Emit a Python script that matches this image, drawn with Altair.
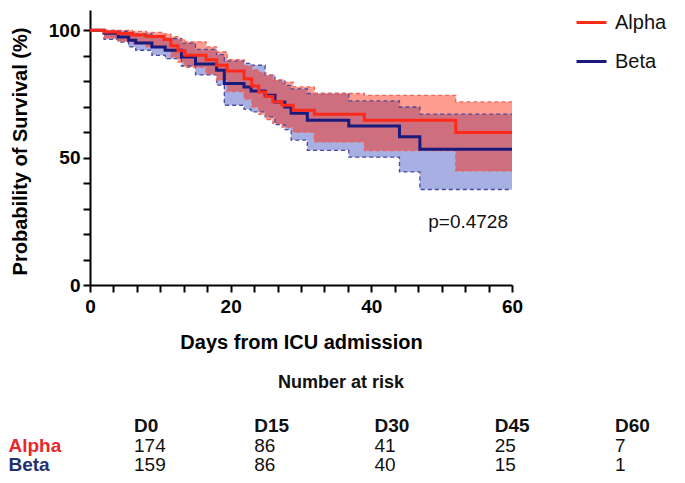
import altair as alt
import pandas as pd

FONT = "Liberation Sans"
RED = "#FF2A1A"
NAVY = "#1A1A7C"

# ---- Kaplan-Meier estimates (days, survival %, 95% CI) ----
a_t = [0, 2, 4, 6, 8, 10.5, 11.5, 12.5, 13.5, 16.5, 18, 19.5, 21.9, 23, 24, 25, 26, 27.3, 28.9, 31.9, 39, 52, 60]
a_s = [100, 99.4, 98.8, 98.2, 97.6, 96.4, 94.0, 92.0, 90.2, 88.5, 86.3, 84.0, 81.0, 78.2, 75.8, 74.0, 72.0, 70.6, 68.6, 67.1, 64.7, 59.9, 59.9]
a_lo = [100, 97.0, 95.8, 94.8, 93.5, 92.0, 89.5, 87.5, 85.5, 83.0, 80.5, 76.0, 73.0, 70.0, 67.0, 65.0, 63.5, 62.0, 60.0, 56.2, 52.8, 44.8, 44.8]
a_hi = [100, 100, 100, 99.6, 99.2, 98.6, 97.5, 96.5, 95.5, 93.5, 91.5, 88.5, 86.0, 84.5, 83.5, 82.4, 80.5, 79.7, 77.8, 75.2, 74.5, 71.9, 71.9]

b_t = [0, 2, 4, 5.5, 6.5, 8.8, 10.7, 13, 15, 18, 19.1, 21.9, 22.9, 24.9, 26.3, 27.7, 28.6, 30.9, 36.8, 44, 46.9, 60]
b_s = [100, 98.9, 97.4, 96.1, 95.0, 93.5, 92.2, 89.5, 86.8, 84.3, 79.1, 77.8, 76.2, 74.5, 71.9, 69.9, 67.5, 64.7, 62.4, 58.2, 53.3, 53.3]
b_lo = [100, 96.5, 95.4, 93.5, 92.2, 90.2, 88.9, 86.0, 82.5, 78.5, 70.6, 69.0, 68.0, 66.0, 63.0, 61.0, 56.9, 52.9, 50.2, 44.4, 37.5, 37.5]
b_hi = [100, 100, 99.6, 99.2, 98.6, 97.8, 96.8, 95.0, 92.5, 90.5, 88.0, 87.0, 86.3, 82.4, 80.4, 78.4, 77.0, 75.2, 72.3, 69.9, 67.1, 67.1]

# ---- Number at risk ----
risk_days = ["D0", "D15", "D30", "D45", "D60"]
alpha_risk = [174, 86, 41, 25, 7]
beta_risk = [159, 86, 40, 15, 1]

p_label = "p=0.4728"

df = pd.concat([
    pd.DataFrame({"group": "Alpha", "t": a_t, "s": a_s, "lo": a_lo, "hi": a_hi}),
    pd.DataFrame({"group": "Beta", "t": b_t, "s": b_s, "lo": b_lo, "hi": b_hi}),
])

risk_df = pd.DataFrame({
    "i": list(range(len(risk_days))),
    "day": risk_days,
    "alpha": [str(v) for v in alpha_risk],
    "beta": [str(v) for v in beta_risk],
})

xticks = [i * 10 / 3 for i in range(19)]
yticks = list(range(0, 101, 10))

xscale = alt.Scale(domain=[0, 60], nice=False, zero=False)
yscale = alt.Scale(domain=[0, 108], nice=False)

xaxis = alt.Axis(
    values=xticks,
    labelExpr="abs(datum.value/20 - round(datum.value/20)) < 0.001 ? format(round(datum.value), 'd') : ''",
    labelPadding=5, labelFlush=False, titleY=57, titleBaseline="middle",
)
yaxis = alt.Axis(
    values=yticks,
    labelExpr="datum.value % 50 == 0 ? datum.label : ''",
    labelPadding=3, labelFlush=False, titleX=-70, titleY=141, titleBaseline="middle", titleAlign="center",
)

X = alt.X("t:Q", scale=xscale, axis=xaxis, title="Days from ICU admission")


def Y(field):
    return alt.Y(field, scale=yscale, axis=yaxis, title="Probability of Survival (%)")


base = alt.Chart(df)
alpha_b = base.transform_filter(alt.datum.group == "Alpha")
beta_b = base.transform_filter(alt.datum.group == "Beta")

area_b = beta_b.mark_area(interpolate="step-after", color="#5060C8", opacity=0.5).encode(
    x=X, y=Y("lo:Q"), y2="hi:Q")
area_r = alpha_b.mark_area(interpolate="step-after", color="#FF1E00", opacity=0.44).encode(
    x=X, y=Y("lo:Q"), y2="hi:Q")

edge_kw_b = dict(interpolate="step-after", strokeDash=[4, 3], strokeWidth=1.3, color="#4A4A9E")
edge_kw_r = dict(interpolate="step-after", strokeDash=[4, 3], strokeWidth=1.3, color="#F0645A")
eb_lo = beta_b.mark_line(**edge_kw_b).encode(x=X, y=Y("lo:Q"))
eb_hi = beta_b.mark_line(**edge_kw_b).encode(x=X, y=Y("hi:Q"))
er_lo = alpha_b.mark_line(**edge_kw_r).encode(x=X, y=Y("lo:Q"))
er_hi = alpha_b.mark_line(**edge_kw_r).encode(x=X, y=Y("hi:Q"))

color = alt.Color(
    "group:N",
    scale=alt.Scale(domain=["Alpha", "Beta"], range=[RED, NAVY]),
    legend=alt.Legend(
        title=None, orient="none", legendX=485, legendY=-4,
        symbolType="stroke", symbolSize=900, symbolStrokeWidth=3,
        labelFontSize=20, labelFont=FONT, labelColor="#111", labelOffset=7,
        rowPadding=12,
    ),
)
line_b = beta_b.mark_line(interpolate="step-after", strokeWidth=3).encode(x=X, y=Y("s:Q"), color=color)
line_r = alpha_b.mark_line(interpolate="step-after", strokeWidth=3).encode(x=X, y=Y("s:Q"), color=color)

main = alt.layer(area_b, area_r, eb_lo, eb_hi, er_lo, er_hi, line_b, line_r)

# p-value annotation
p_text = alt.Chart(pd.DataFrame({"label": [p_label]})).mark_text(
    font=FONT, fontSize=19, align="right", baseline="middle", color="#111"
).encode(x=alt.value(418), y=alt.value(212), text="label:N")

# Number at risk table
tx = alt.X("i:Q", scale=alt.Scale(domain=[0, 4], range=[44, 525]), axis=None)
rchart = alt.Chart(risk_df)
tbl_title = alt.Chart(pd.DataFrame({"label": ["Number at risk"]})).mark_text(
    font=FONT, fontSize=18, fontWeight="bold", align="center", baseline="middle", color="#111"
).encode(x=alt.value(251), y=alt.value(373), text="label:N")
tbl_head = rchart.mark_text(font=FONT, fontSize=19, fontWeight="bold", align="left",
                            baseline="middle", color="#111").encode(
    x=tx, y=alt.value(416), text="day:N")
tbl_a = rchart.mark_text(font=FONT, fontSize=19, align="left", baseline="middle", color="#111").encode(
    x=tx, y=alt.value(436), text="alpha:N")
tbl_bv = rchart.mark_text(font=FONT, fontSize=19, align="left", baseline="middle", color="#111").encode(
    x=tx, y=alt.value(455), text="beta:N")

row_df = pd.DataFrame({"group": ["Alpha", "Beta"]})
row_a = alt.Chart(row_df).transform_filter(alt.datum.group == "Alpha").mark_text(
    font=FONT, fontSize=19, fontWeight="bold", align="left", baseline="middle", color="#E8262B"
).encode(x=alt.value(-81.5), y=alt.value(436), text="group:N")
row_b = alt.Chart(row_df).transform_filter(alt.datum.group == "Beta").mark_text(
    font=FONT, fontSize=19, fontWeight="bold", align="left", baseline="middle", color="#22306E"
).encode(x=alt.value(-81.5), y=alt.value(455), text="group:N")

chart = alt.layer(main, p_text, tbl_title, tbl_head, tbl_a, tbl_bv, row_a, row_b).resolve_scale(
    x="independent"
).properties(
    width=422, height=275,
    padding={"left": 82, "top": 2, "right": 165, "bottom": 190},
    autosize=alt.AutoSizeParams(type="none"),
).configure_view(stroke=None).configure_axis(
    grid=False, domainColor="black", domainWidth=2, tickColor="black", tickWidth=2, tickSize=7,
    labelFont=FONT, labelFontSize=19, labelFontWeight="bold", labelColor="black",
    titleFont=FONT, titleFontSize=20, titleFontWeight="bold", titleColor="black",
)

chart.save("out.html", embed_options={"renderer": "svg", "actions": False})
